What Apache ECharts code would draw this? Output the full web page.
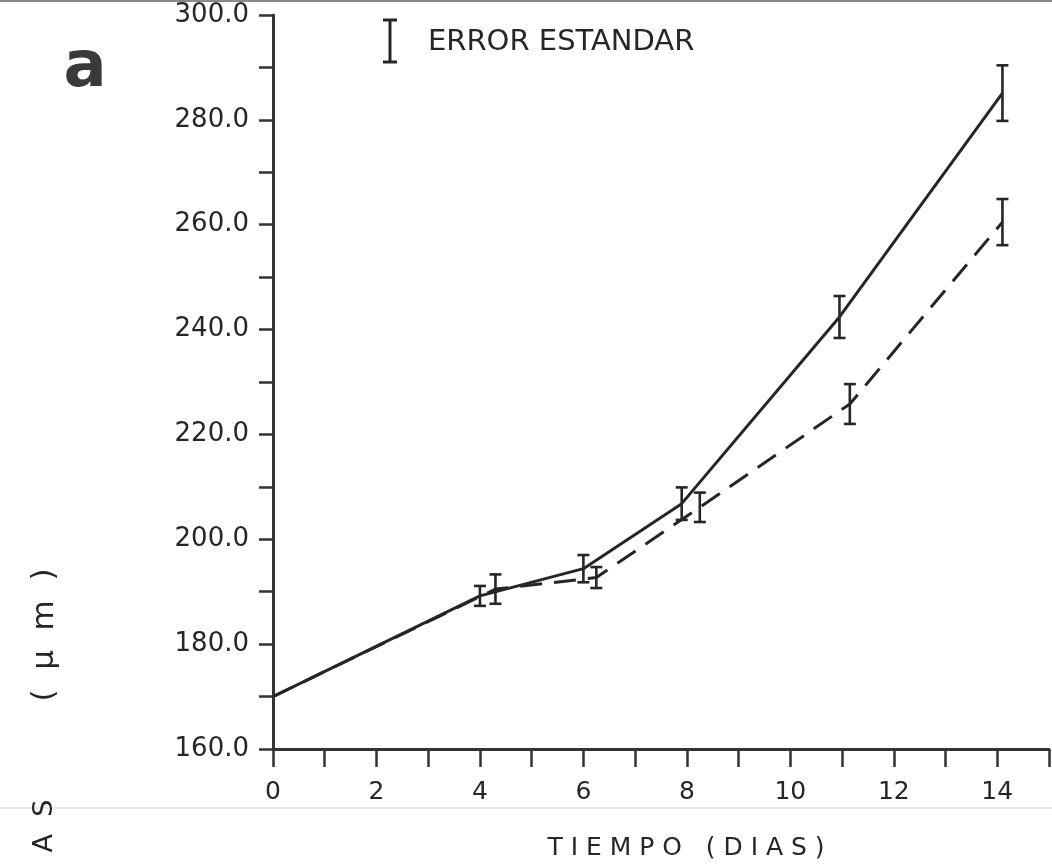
<!DOCTYPE html>
<html>
<head>
<meta charset="utf-8">
<script src="https://cdn.jsdelivr.net/npm/echarts@6/dist/echarts.min.js"></script>
<style>
  html, body { margin: 0; padding: 0; background: #ffffff; }
  #chart { width: 1052px; height: 866px; }
</style>
</head>
<body>
<div id="chart"></div>
<script>
// ---- data ----
const solidDays  = [0, 4, 6, 7.9, 10.95, 14.1];
const solidMeans = [170, 189.2, 194.4, 206.8, 242.4, 285.1];
const solidErr   = [null, 1.9, 2.6, 3.1, 4.0, 5.3];

const dashDays   = [0, 4.3, 6.25, 8.25, 11.15, 14.1];
const dashMeans  = [170, 190.5, 192.7, 206.1, 225.8, 260.5];
const dashErr    = [null, 2.8, 2.0, 2.8, 3.8, 4.4];

const xTicks = [0, 2, 4, 6, 8, 10, 12, 14];
const yTicks = [160, 180, 200, 220, 240, 260, 280, 300];

const legendText = 'ERROR ESTANDAR';
const xTitle = 'T I E M P O   ( D I A S )';
const yTitle = '(  µ  m  )';
const yTitleRest = 'A  S';
const panelLabel = 'a';

// ---- build ----
const ink = '#262626';
function pairs(xs, ys) { return xs.map((x, i) => [x, ys[i]]); }
function errData(xs, ys, es) {
  const out = [];
  xs.forEach((x, i) => { if (es[i] != null) out.push([x, ys[i], es[i]]); });
  return out;
}
function renderErr(params, api) {
  const x = api.value(0), y = api.value(1), e = api.value(2);
  const t = api.coord([x, y + e]);
  const b = api.coord([x, y - e]);
  const hw = 6;
  const st = { stroke: ink, lineWidth: 2.6 };
  return {
    type: 'group',
    children: [
      { type: 'line', shape: { x1: t[0], y1: t[1], x2: b[0], y2: b[1] }, style: st },
      { type: 'line', shape: { x1: t[0] - hw, y1: t[1], x2: t[0] + hw, y2: t[1] }, style: st },
      { type: 'line', shape: { x1: b[0] - hw, y1: b[1], x2: b[0] + hw, y2: b[1] }, style: st }
    ]
  };
}

const chart = echarts.init(document.getElementById('chart'), null, { renderer: 'canvas' });
const fontFam = 'DejaVu Sans, sans-serif';

chart.setOption({
  animation: false,
  backgroundColor: '#ffffff',
  grid: { left: 273, right: 3, top: 15, bottom: 117, containLabel: false, outerBoundsMode: 'none' },
  xAxis: {
    type: 'value', min: 0, max: 15, interval: 1,
    axisLine: { show: true, onZero: false, lineStyle: { color: '#333', width: 3 } },
    axisTick: { show: true, inside: false, length: 18, lineStyle: { color: '#333', width: 2.5 } },
    axisLabel: {
      margin: 31, fontFamily: fontFam, fontSize: 25, color: ink,
      formatter: v => (xTicks.indexOf(v) >= 0 ? String(v) : '')
    },
    splitLine: { show: false }
  },
  yAxis: {
    type: 'value', min: 160, max: 300, interval: 10,
    axisLine: { show: true, onZero: false, lineStyle: { color: '#333', width: 3 } },
    axisTick: { show: true, inside: false, length: 14, lineStyle: { color: '#333', width: 2.5 } },
    axisLabel: {
      margin: 24, fontFamily: fontFam, fontSize: 26, color: ink,
      formatter: v => (yTicks.indexOf(v) >= 0 ? v.toFixed(1) : '')
    },
    splitLine: { show: false }
  },
  series: [
    {
      type: 'line', data: pairs(solidDays, solidMeans), symbol: 'none',
      lineStyle: { color: ink, width: 3, type: 'solid' }, z: 3
    },
    {
      type: 'line', data: pairs(dashDays, dashMeans), symbol: 'none',
      lineStyle: { color: ink, width: 3, type: [22, 12] }, z: 3
    },
    { type: 'custom', data: errData(solidDays, solidMeans, solidErr), renderItem: renderErr, z: 4 },
    { type: 'custom', data: errData(dashDays, dashMeans, dashErr), renderItem: renderErr, z: 4 }
  ],
  graphic: [
    // legend symbol
    { type: 'line', shape: { x1: 390, y1: 20, x2: 390, y2: 62 }, style: { stroke: ink, lineWidth: 3 } },
    { type: 'line', shape: { x1: 383, y1: 20, x2: 397, y2: 20 }, style: { stroke: ink, lineWidth: 3 } },
    { type: 'line', shape: { x1: 383, y1: 62, x2: 397, y2: 62 }, style: { stroke: ink, lineWidth: 3 } },
    { type: 'text', x: 428, y: 42, style: { text: legendText, fontFamily: fontFam, fontSize: 29, fill: ink, align: 'left', verticalAlign: 'middle' } },
    // x-axis title
    { type: 'text', x: 686, y: 848, style: { text: xTitle, fontFamily: fontFam, fontSize: 25, fill: ink, align: 'center', verticalAlign: 'middle' } },
    // panel label
    { type: 'text', x: 85, y: 69, style: { text: panelLabel, fontFamily: fontFam, fontSize: 64, fontWeight: 'bold', fill: '#3a3a3a', align: 'center', verticalAlign: 'middle' } },
    // y-axis title pieces (rotated)
    { type: 'text', x: 45, y: 635, rotation: Math.PI / 2,
      style: { text: yTitle, fontFamily: fontFam, fontSize: 31, fill: ink, align: 'center', verticalAlign: 'middle' } },
    { type: 'text', x: 45, y: 826, rotation: Math.PI / 2,
      style: { text: yTitleRest, fontFamily: fontFam, fontSize: 27, fill: ink, align: 'center', verticalAlign: 'middle' } },
    // scan artefacts: page edge lines
    { type: 'line', shape: { x1: 0, y1: 808, x2: 1052, y2: 808 }, style: { stroke: '#e2e2e2', lineWidth: 1.5 }, z: -1 },
    { type: 'line', shape: { x1: 0, y1: 1, x2: 1052, y2: 1 }, style: { stroke: '#8a8a8a', lineWidth: 2 }, z: -1 }
  ]
});
</script>
</body>
</html>
